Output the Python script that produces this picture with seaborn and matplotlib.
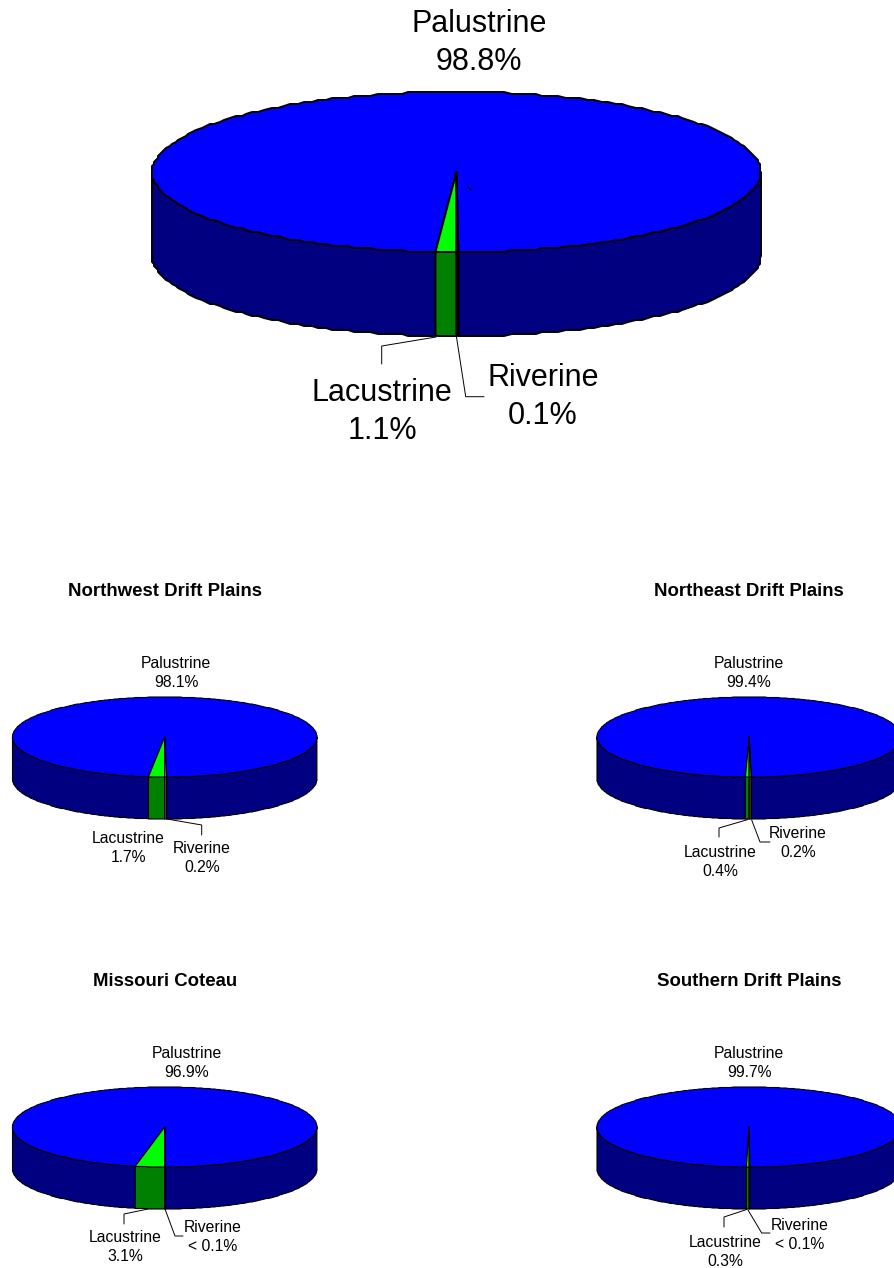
import numpy as np
import matplotlib
matplotlib.use("Agg")
import matplotlib.pyplot as plt
from matplotlib.patches import Polygon
import seaborn as sns

# Wetland area shares (percent) by system, statewide and per region
regions = ["", "Northwest Drift Plains", "Northeast Drift Plains",
           "Missouri Coteau", "Southern Drift Plains"]
palustrine = [98.8, 98.1, 99.4, 96.9, 99.7]
lacustrine = [1.1, 1.7, 0.4, 3.1, 0.3]
riverine = [0.1, 0.2, 0.2, 0.05, 0.05]
riverine_labels = ["0.1%", "0.2%", "0.2%", "< 0.1%", "< 0.1%"]
system_names = ["Palustrine", "Lacustrine", "Riverine"]

sns.set_theme(style="white")
plt.rcParams["font.family"] = ["Liberation Sans", "DejaVu Sans"]

# Top-face and side-wall colours for each system
top_colors = sns.color_palette(["#0000ff", "#00ff00", "#b0a000"])
side_colors = sns.color_palette(["#000080", "#008000", "#6b5f00"])

# Layout of each pie in figure pixels: centre, radii, wall depth, outline width,
# rim sampling step in degrees and pixel grid for the rim vertices
pie_layout = [
    dict(cx=456.5, cy=172, rx=304.5, ry=80, depth=84, lw=1.4, step=1.5, grid=2),
    dict(cx=164.7, cy=737, rx=152.2, ry=40, depth=42, lw=0.8, step=1, grid=0.5),
    dict(cx=749.2, cy=737, rx=152.2, ry=40, depth=42, lw=0.8, step=1, grid=0.5),
    dict(cx=164.7, cy=1127, rx=152.2, ry=40, depth=42, lw=0.8, step=1, grid=0.5),
    dict(cx=749.2, cy=1127, rx=152.2, ry=40, depth=42, lw=0.8, step=1, grid=0.5),
]
title_pos = [None, (165, 591), (749, 591), (165, 981), (749, 981)]

# Label centres: palustrine, lacustrine, riverine; font size and spacing per pie
label_pos = [
    [(479, 43), (382, 412), (543, 397)],
    [(176, 673), (128, 848), (202, 858)],
    [(749, 673), (720, 862), (798, 843)],
    [(187, 1063), (125, 1247), (213, 1237)],
    [(749, 1063), (725, 1252), (800, 1235)],
]
label_size = [22, 11.3, 11.3, 11.3, 11.3]
label_spacing = [1.34, 1.28, 1.28, 1.28, 1.28]

# Leader line routes for the lacustrine and riverine labels
leaders = [
    [[(436, 337), (381.7, 346), (381.7, 364)], [(456.5, 337), (465.7, 396.7), (484, 396.7)]],
    [None, [(167, 819), (201.7, 825), (201.7, 835)]],
    [[(748, 819.5), (719, 828), (719, 837)], [(751.7, 820), (760, 842), (770, 842)]],
    [[(148, 1209), (124, 1214), (124, 1224)], [(165, 1209), (175, 1236), (183, 1236)]],
    [[(746.7, 1209.5), (724, 1217), (724, 1227)], [(748, 1210), (761.7, 1233), (770, 1233)]],
]


def arc(g, a0, a1, drop=0.0):
    """Rim points between two angles (degrees, counter-clockwise, y up).

    Interior vertices sit on a fixed angular lattice and a pixel grid, which
    gives the rim its slightly faceted outline; the two end points stay exact.
    """
    lo, hi = min(a0, a1), max(a0, a1)
    inner = np.arange(np.ceil(lo / g["step"]) * g["step"], hi, g["step"])
    inner = inner[(inner > lo) & (inner < hi)]

    def rim(angles):
        t = np.radians(angles)
        return g["cx"] + g["rx"] * np.cos(t), g["cy"] - g["ry"] * np.sin(t) + drop

    ix, iy = rim(inner)
    ix = np.round(ix / g["grid"]) * g["grid"]
    iy = np.round(iy / g["grid"]) * g["grid"]
    ex, ey = rim(np.array([lo, hi]))
    xs = np.concatenate([[ex[0]], ix, [ex[1]]])
    ys = np.concatenate([[ey[0]], iy, [ey[1]]])
    pts = np.column_stack([xs, ys])
    return pts if a0 <= a1 else pts[::-1]


def draw_pie(ax, shares, g):
    total = sum(shares)
    pal, lac, riv = [s / total * 360 for s in shares]
    # Lacustrine ends at six o'clock, riverine starts there and runs counter-clockwise
    spans = [(270 + riv, 270 + riv + pal), (270 - lac, 270), (270, 270 + riv)]
    edge = dict(edgecolor="black", linewidth=g["lw"], joinstyle="round")

    # Side wall: only the front half of the rim (180..360 degrees) is visible
    for (a0, a1), col in zip(spans, side_colors):
        for shift in (0, -360):
            lo, hi = max(a0 + shift, 180), min(a1 + shift, 360)
            if hi > lo:
                upper = arc(g, lo, hi)
                lower = arc(g, hi, lo, drop=g["depth"])
                ax.add_patch(Polygon(np.vstack([upper, lower]), closed=True,
                                     facecolor=col, **edge))

    # Top face
    apex = [[g["cx"], g["cy"]]]
    for (a0, a1), col in zip(spans, top_colors):
        ax.add_patch(Polygon(np.vstack([apex, arc(g, a0, a1)]), closed=True,
                             facecolor=col, **edge))


fig = plt.figure(figsize=(8.94, 12.68), dpi=100)
ax = fig.add_axes([0, 0, 1, 1])
ax.set_xlim(0, 894)
ax.set_ylim(1268, 0)
ax.axis("off")

for i, name in enumerate(regions):
    shares = [palustrine[i], lacustrine[i], riverine[i]]
    draw_pie(ax, shares, pie_layout[i])

    texts = [f"{palustrine[i]}%", f"{lacustrine[i]}%", riverine_labels[i]]
    for sys_name, value, (x, y) in zip(system_names, texts, label_pos[i]):
        ax.text(x, y, f"{sys_name}\n{value}", ha="center", va="center",
                ma="center", fontsize=label_size[i], color="black",
                linespacing=label_spacing[i])

    for route in leaders[i]:
        if route is not None:
            xs, ys = zip(*route)
            ax.plot(xs, ys, color="black", lw=0.7, solid_joinstyle="miter")

    if name:
        ax.text(*title_pos[i], name, ha="center", va="center",
                fontsize=13.4, fontweight="bold", color="black")

# Small stray stroke on the statewide pie's top face
ax.plot([468, 471], [187, 190], color="black", lw=0.9)

fig.savefig("out.png", dpi=100, facecolor="white")
